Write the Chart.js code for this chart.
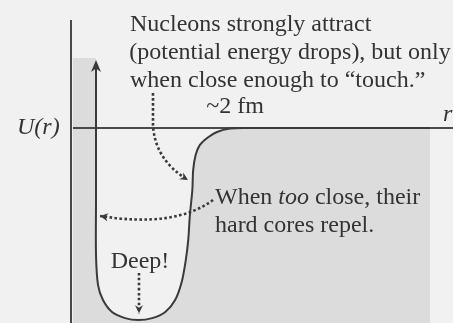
<!DOCTYPE html>
<html>
<head>
<meta charset="utf-8">
<script src="https://cdn.jsdelivr.net/npm/chart.js@4.4.0/dist/chart.umd.min.js"></script>
<style>
  html, body { margin: 0; padding: 0; background: #f1f1f1; }
  #wrap { width: 453px; height: 323px; }
  .preload { position: absolute; left: -9999px; font-family: "Liberation Serif"; font-size: 24px; }
</style>
</head>
<body>
<div id="wrap"><canvas id="wellChart"></canvas></div>
<span class="preload">Nucleons</span><span class="preload" style="font-style: italic">U(r) too</span>
<script>
// nuclear potential U(r): r in fm, U in arbitrary units (well bottom = -100)
const curveR = [0.305, 0.305, 0.305, 0.305, 0.33, 0.39, 0.50, 0.66, 0.82, 0.99, 1.15, 1.27, 1.35, 1.40, 1.43, 1.45, 1.48, 1.49, 1.52, 1.57, 1.66, 1.78, 1.94, 2.12, 4.38];
const curveU = [31.3, 0, -37.5, -66.1, -81.8, -89.6, -95.8, -99.0, -100, -99.0, -95.8, -89.6, -80.2, -68.8, -58.3, -45.3, -32.3, -21.9, -14.1, -8.9, -5.2, -2.1, -0.3, 0, 0];

// shaded strip left of the hard core wall
const stripR = [0.024, 0.305];
const stripU = [36.5, 36.5];

// axes
const rAxisR = [0.024, 4.66];
const rAxisU = [0, 0];
const uAxisR = [0, 0];
const uAxisU = [56.3, -101.6];

const rMin = -0.866, rMax = 4.659;
const uMin = -101.56, uMax = 66.67;

const toPts = (xs, ys) => xs.map((x, i) => ({ x, y: ys[i] }));

const SERIF = '"Liberation Serif", "DejaVu Serif", serif';
const INK = '#333333';

const notes = {
  lines: [
    { text: 'Nucleons strongly attract', r: 0.72, u: 50.3 },
    { text: '(potential energy drops), but only', r: 0.71, u: 35.7 },
    { text: 'when close enough to \u201Ctouch.\u201D', r: 0.72, u: 21.4 },
    { text: 'hard cores repel.', r: 1.756, u: -54.2 }
  ],
  upArrow: { r: 0.305, u: 35.4 },
  dotted: [
    { from: [1.0, 18.2], via: [1.0, 1.5], ctrl: [1.024, -16.7], to: [1.427, -27.1] },
    { from: [1.732, -37.5], ctrl: [1.268, -52.1], to: [0.354, -45.8] },
    { from: [0.829, -75.5], ctrl: [0.829, -85], to: [0.829, -96.5] }
  ]
};

const annotate = {
  id: 'annotate',
  afterDatasetsDraw(chart) {
    const ctx = chart.ctx;
    const xs = chart.scales.x, ys = chart.scales.y;
    const X = v => xs.getPixelForValue(v);
    const Y = v => ys.getPixelForValue(v);

    function head(tx, ty, fx, fy, len, half) {
      const a = Math.atan2(ty - fy, tx - fx);
      ctx.beginPath();
      ctx.moveTo(tx, ty);
      ctx.lineTo(tx - len * Math.cos(a) + half * Math.sin(a), ty - len * Math.sin(a) - half * Math.cos(a));
      ctx.lineTo(tx - len * 0.7 * Math.cos(a), ty - len * 0.7 * Math.sin(a));
      ctx.lineTo(tx - len * Math.cos(a) - half * Math.sin(a), ty - len * Math.sin(a) + half * Math.cos(a));
      ctx.closePath();
      ctx.fill();
    }

    ctx.save();
    // arrow on the hard core wall
    ctx.fillStyle = '#3a3a3a';
    const ua = notes.upArrow;
    head(X(ua.r), Y(ua.u), X(ua.r), Y(ua.u) + 10, 12, 5);

    // dotted pointers
    ctx.strokeStyle = '#3a3a3a';
    ctx.fillStyle = '#3a3a3a';
    ctx.lineWidth = 2.6;
    notes.dotted.forEach(d => {
      ctx.setLineDash([2.6, 2.4]);
      ctx.beginPath();
      ctx.moveTo(X(d.from[0]), Y(d.from[1]));
      if (d.via) ctx.lineTo(X(d.via[0]), Y(d.via[1]));
      ctx.quadraticCurveTo(X(d.ctrl[0]), Y(d.ctrl[1]), X(d.to[0]), Y(d.to[1]));
      ctx.stroke();
      ctx.setLineDash([]);
      head(X(d.to[0]), Y(d.to[1]), X(d.ctrl[0]), Y(d.ctrl[1]), 8, 4);
    });

    // texts
    ctx.fillStyle = INK;
    ctx.textBaseline = 'alphabetic';
    ctx.textAlign = 'left';
    ctx.font = '24px ' + SERIF;
    notes.lines.forEach(l => ctx.fillText(l.text, X(l.r), Y(l.u)));

    ctx.textAlign = 'center';
    ctx.fillText('~2 fm', X(2.0), Y(7.8));
    ctx.fillText('Deep!', X(0.841), Y(-72.9));

    // "When too close, their" with italic "too"
    ctx.textAlign = 'left';
    let x0 = X(1.756);
    const yb = Y(-39.6);
    const parts = [['When ', false], ['too', true], [' close, their', false]];
    parts.forEach(([t, it]) => {
      ctx.font = (it ? 'italic ' : '') + '24px ' + SERIF;
      ctx.fillText(t, x0, yb);
      x0 += ctx.measureText(t).width;
    });

    ctx.font = 'italic 24px ' + SERIF;
    ctx.fillText('U(r)', X(-0.659), Y(-3.1));
    ctx.fillText('r', X(4.537), Y(3.6));
    ctx.restore();
  }
};

function renderChart() {
  new Chart(document.getElementById('wellChart'), {
    type: 'line',
    data: {
      datasets: [
        {
          data: toPts(curveR, curveU),
          borderColor: '#3a3a3a',
          borderWidth: 2,
          backgroundColor: '#dcdcdc',
          fill: 'start',
          tension: 0.3,
          pointRadius: 0
        },
        {
          data: toPts(rAxisR, rAxisU),
          borderColor: '#4a4a4a',
          borderWidth: 2,
          pointRadius: 0,
          fill: false
        },
        {
          data: toPts(uAxisR, uAxisU),
          borderColor: '#4a4a4a',
          borderWidth: 2,
          pointRadius: 0,
          fill: false
        },
        {
          data: toPts(stripR, stripU),
          borderWidth: 0,
          borderColor: 'rgba(0,0,0,0)',
          backgroundColor: '#dcdcdc',
          fill: 'start',
          pointRadius: 0
        }
      ]
    },
    options: {
      responsive: true,
      maintainAspectRatio: false,
      animation: false,
      layout: { padding: 0 },
      plugins: {
        legend: { display: false },
        tooltip: { enabled: false }
      },
      scales: {
        x: { type: 'linear', min: rMin, max: rMax, display: false },
        y: { type: 'linear', min: uMin, max: uMax, display: false }
      }
    },
    plugins: [annotate]
  });
}

Promise.all([
  document.fonts.load('24px "Liberation Serif"'),
  document.fonts.load('italic 24px "Liberation Serif"')
]).then(renderChart, renderChart);
</script>
</body>
</html>
